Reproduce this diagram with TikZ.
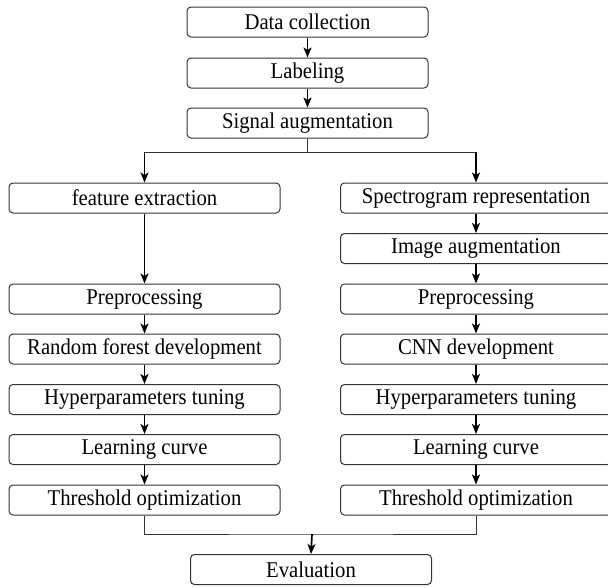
\documentclass[tikz,border=0pt]{standalone}
\usepackage{fontspec}
\setmainfont[FakeStretch=0.92]{Liberation Serif}
\usetikzlibrary{arrows.meta}
\begin{document}
\begin{tikzpicture}[x=1pt,y=-1pt,
  box/.style={draw=black!80, line width=1pt, rounded corners=4pt, inner sep=0pt,
    minimum height=30pt, font=\fontsize{22.5}{25}\selectfont},
  sidebox/.style={box, minimum width=271pt},
  topbox/.style={box, minimum width=241pt},
  arr/.style={line width=1.7pt, -{Stealth[length=10pt,width=8pt,inset=2.5pt]}},
  ln/.style={line width=1pt, draw=black!80}]
\useasboundingbox (0,0) rectangle (608,587);
\begin{scope}
\clip (0,0) rectangle (608,587);
% top column
\node[topbox] (dc) at (307.5,22) {Data collection};
\node[topbox] (lab) at (307.5,73) {Labeling};
\node[topbox] (sig) at (307.5,123) {Signal augmentation};
% left column
\node[sidebox] (fe) at (144.5,198) {feature extraction};
\node[sidebox] (lpre) at (144.5,299) {Preprocessing};
\node[sidebox] (rf) at (144.5,349) {Random forest development};
\node[sidebox] (lhyp) at (144.5,399.5) {Hyperparameters tuning};
\node[sidebox] (llc) at (144.5,449.5) {Learning curve};
\node[sidebox] (lth) at (144.5,500) {Threshold optimization};
% right column
\node[sidebox] (spec) at (476,198) {Spectrogram representation};
\node[sidebox] (img) at (476,248.5) {Image augmentation};
\node[sidebox] (rpre) at (476,299) {Preprocessing};
\node[sidebox] (cnn) at (476,349) {CNN development};
\node[sidebox] (rhyp) at (476,399.5) {Hyperparameters tuning};
\node[sidebox] (rlc) at (476,449.5) {Learning curve};
\node[sidebox] (rth) at (476,500) {Threshold optimization};
% evaluation
\node[topbox] (ev) at (311,569.5) {Evaluation};
% connectors
\draw[arr] (dc) -- (lab);
\draw[arr] (lab) -- (sig);
\coordinate (split) at (307.5,152);
\draw[ln] (sig.south) -- (split);
\draw[ln] (split) -- (fe.center |- split) coordinate (sl);
\draw[ln] (split) -- (spec.center |- split) coordinate (sr);
\draw[arr] (sl) -- (fe.north);
\draw[arr] (sr) -- (spec.north);
\draw[arr] (fe) -- (lpre);
\draw[arr] (lpre) -- (rf);
\draw[arr] (rf) -- (lhyp);
\draw[arr] (lhyp) -- (llc);
\draw[arr] (llc) -- (lth);
\draw[arr] (spec) -- (img);
\draw[arr] (img) -- (rpre);
\draw[arr] (rpre) -- (cnn);
\draw[arr] (cnn) -- (rhyp);
\draw[arr] (rhyp) -- (rlc);
\draw[arr] (rlc) -- (rth);
\coordinate (merge) at (312,534);
\draw[ln] (lth.south) |- (merge) -| (rth.south);
\draw[arr] (merge) -- (ev.north);
\end{scope}
\end{tikzpicture}
\end{document}
